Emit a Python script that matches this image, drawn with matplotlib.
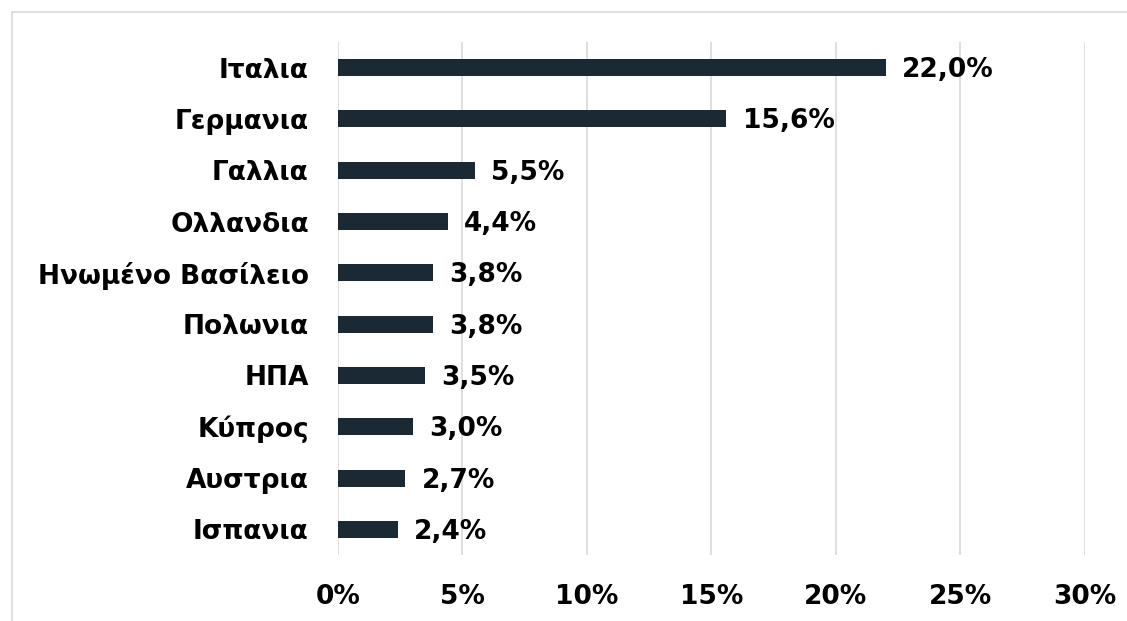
import matplotlib.pyplot as plt
from matplotlib.patches import Rectangle
from matplotlib.ticker import FuncFormatter

# Share by country (%)
countries = ["Ιταλια", "Γερμανια", "Γαλλια", "Ολλανδια", "Ηνωμένο Βασίλειο",
             "Πολωνια", "ΗΠΑ", "Κύπρος", "Αυστρια", "Ισπανια"]
shares = [22.0, 15.6, 5.5, 4.4, 3.8, 3.8, 3.5, 3.0, 2.7, 2.4]
x_ticks = [0, 5, 10, 15, 20, 25, 30]

plt.rcParams['font.family'] = ['DejaVu Sans']
plt.rcParams['font.weight'] = 'bold'

bar_color = "#1b2935"
grid_color = "#d9d9d9"
fs = 19

fig = plt.figure(figsize=(11.27, 6.21), dpi=100)
ax = fig.add_axes([0.2999, 0.1063, 0.6628, 0.8261])

# light frame around the chart area
fig.patches.append(Rectangle((12 / 1127, -0.1), 1.2, 1 - 12 / 621 + 0.1,
                             transform=fig.transFigure, fill=False,
                             edgecolor=grid_color, linewidth=1.2))

pos = list(range(len(countries)))
ax.barh(pos, shares, height=0.33, color=bar_color, zorder=3)

for p, v in zip(pos, shares):
    ax.text(v + 0.65, p + 0.05, f"{v:.1f}%".replace(".", ","),
            va="center", ha="left", fontsize=fs, fontweight="bold", color="black")

ax.set_yticks(pos)
ax.set_yticklabels(countries, fontsize=fs, fontweight="bold")
ax.set_ylim(len(countries) - 0.5, -0.5)

ax.set_xlim(0, 30)
ax.set_xticks(x_ticks)
ax.xaxis.set_major_formatter(FuncFormatter(lambda v, _: f"{v:.0f}%"))
for lbl in ax.get_xticklabels():
    lbl.set_fontsize(fs)
    lbl.set_fontweight("bold")

ax.tick_params(axis="both", length=0)
ax.tick_params(axis="y", pad=21)
ax.tick_params(axis="x", pad=21)
ax.grid(axis="x", color=grid_color, linewidth=1.2, zorder=0)
for s in ax.spines.values():
    s.set_visible(False)

fig.savefig("out.png", dpi=100)
